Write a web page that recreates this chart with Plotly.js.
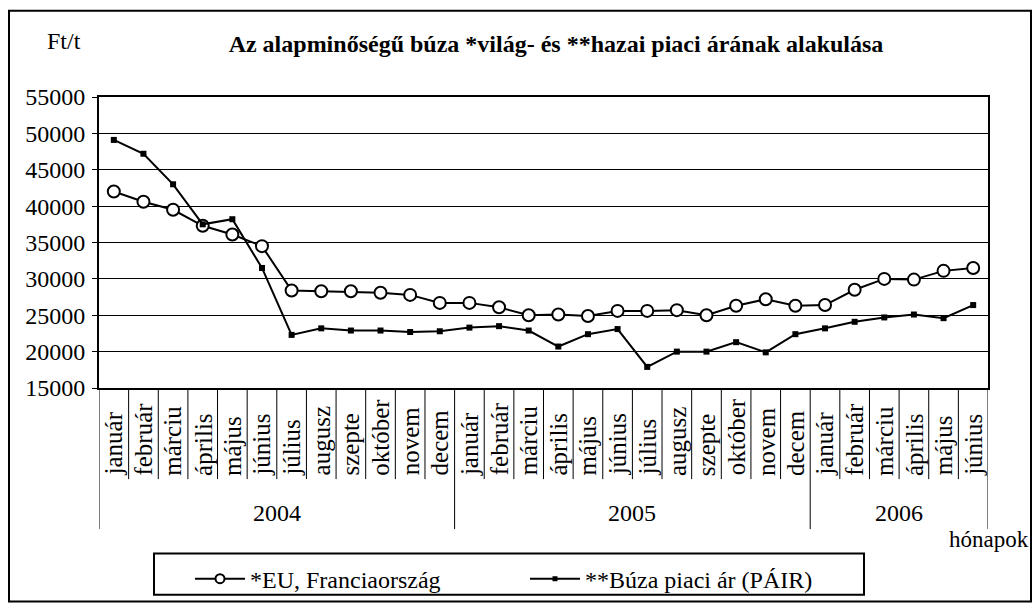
<!DOCTYPE html>
<html>
<head>
<meta charset="utf-8">
<script src="https://cdn.plot.ly/plotly-3.0.1.min.js"></script>
<style>html,body{margin:0;padding:0;background:#fff;}</style>
</head>
<body>
<div id="chart" style="width:1035px;height:613px;"></div>
<script>
const monthNames = ['január','február','márciu','április','május','június','július','augusz','szepte','október','novem','decem'];
const years = ['2004','2005','2006'];
const monthsPerYear = [12, 12, 6];
const euPrices = [42000,40600,39500,37300,36100,34500,28400,28300,28300,28100,27800,26700,
                  26700,26100,25000,25100,24900,25600,25600,25700,25000,26300,27200,26300,
                  26400,28500,30000,29900,31100,31500];
const pairPrices = [49100,47200,43000,37500,38200,31500,22300,23200,22900,22900,22700,22800,
                    23300,23500,22900,20700,22400,23100,17900,20000,20000,21300,19900,22400,
                    23200,24100,24700,25100,24600,26400];
const seriesNames = ['*EU, Franciaország', '**Búza piaci ár (PÁIR)'];
const titleText = 'Az alapminőségű búza *világ- és **hazai piaci árának alakulása';
const yUnit = 'Ft/t';
const xUnit = 'hónapok';

const monthLabels = [];
monthsPerYear.forEach((n) => { for (let i = 0; i < n; i++) monthLabels.push(monthNames[i]); });
const xIdx = monthLabels.map((_, i) => i);
const N = monthLabels.length;

const FONT = 'Liberation Serif';

const L = 99, T = 97, W = 889, H = 297;
const px2x = (px) => (px - L) / W;
const py2y = (py) => (T + H - py) / H;

const traces = [
  {x: xIdx, y: euPrices, name: seriesNames[0], type: 'scatter', mode: 'lines+markers', showlegend: false,
   line: {color: '#000', width: 2},
   marker: {symbol: 'circle', size: 12, color: '#fff', line: {color: '#000', width: 2}}},
  {x: xIdx, y: pairPrices, name: seriesNames[1], type: 'scatter', mode: 'lines+markers', showlegend: false,
   line: {color: '#000', width: 2},
   marker: {symbol: 'square', size: 6, color: '#000', line: {color: '#000', width: 0}}},
  {x: [null], y: [null], name: seriesNames[0], type: 'scatter', mode: 'lines+markers', showlegend: true,
   line: {color: '#000', width: 2},
   marker: {symbol: 'circle', size: 9, color: '#fff', line: {color: '#000', width: 2}}},
  {x: [null], y: [null], name: seriesNames[1], type: 'scatter', mode: 'lines+markers', showlegend: true,
   line: {color: '#000', width: 2},
   marker: {symbol: 'square', size: 5, color: '#000', line: {color: '#000', width: 0}}}
];

const shapes = [];
const annotations = [];
const monthBottom = py2y(487);
const yearBottom = py2y(538);
const yearStarts = [0];
monthsPerYear.forEach((n, i) => yearStarts.push(yearStarts[i] + n));
for (let k = 0; k <= N; k++) {
  const isYear = yearStarts.indexOf(k) >= 0;
  shapes.push({type: 'line', xref: 'x', yref: 'paper', x0: k - 0.5, x1: k - 0.5,
    y0: 0, y1: isYear ? yearBottom : monthBottom, line: {color: '#000', width: 1}});
}
monthLabels.forEach((m, i) => {
  annotations.push({x: i, y: monthBottom + 0.005, xref: 'x', yref: 'paper', text: m, showarrow: false,
    textangle: -90, xanchor: 'center', yanchor: 'bottom', font: {family: FONT, size: 25, color: '#000'}});
});
years.forEach((yr, i) => {
  annotations.push({x: (yearStarts[i] + yearStarts[i + 1] - 1) / 2, y: py2y(522), xref: 'x', yref: 'paper',
    text: yr, showarrow: false, xanchor: 'center', yanchor: 'middle', font: {family: FONT, size: 24, color: '#000'}});
});
annotations.push({x: px2x(1031), y: py2y(549), xref: 'paper', yref: 'paper', text: xUnit, showarrow: false,
  xanchor: 'right', yanchor: 'middle', font: {family: FONT, size: 23, color: '#000'}});
annotations.push({x: px2x(64), y: py2y(40), xref: 'paper', yref: 'paper', text: yUnit, showarrow: false,
  xanchor: 'center', yanchor: 'middle', font: {family: FONT, size: 24, color: '#000'}});
shapes.push({type: 'rect', xref: 'paper', yref: 'paper', x0: px2x(9), x1: px2x(1031), y0: py2y(9), y1: py2y(612),
  line: {color: '#000', width: 2}, fillcolor: 'rgba(0,0,0,0)'});
shapes.push({type: 'rect', xref: 'paper', yref: 'paper', x0: px2x(154), x1: px2x(864), y0: py2y(563), y1: py2y(605),
  line: {color: '#000', width: 2}, fillcolor: 'rgba(0,0,0,0)'});

const layout = {
  width: 1035, height: 613,
  margin: {l: L, r: 1035 - L - W, t: T, b: 613 - T - H, pad: 0},
  paper_bgcolor: '#fff', plot_bgcolor: '#fff',
  font: {family: FONT, color: '#000', size: 24},
  title: {text: titleText, x: px2x(556), xref: 'paper', xanchor: 'center', y: 1 - 44 / 613, yref: 'container', yanchor: 'middle',
    font: {family: FONT, size: 24, weight: 'bold', color: '#000'}},
  xaxis: {range: [-0.5, N - 0.5], showgrid: false, zeroline: false, showticklabels: false, ticks: '',
    showline: true, linecolor: '#000', linewidth: 2, mirror: true, fixedrange: true},
  yaxis: {range: [15000, 55000], dtick: 5000, tick0: 15000, tickformat: 'd', showgrid: true, gridcolor: '#000', gridwidth: 1,
    zeroline: false, showline: true, linecolor: '#000', linewidth: 2, mirror: true,
    ticks: 'outside', ticklen: 5, tickcolor: '#000', ticklabelstandoff: 2,
    tickfont: {family: FONT, size: 24, color: '#000'}, fixedrange: true},
  showlegend: true,
  legend: {orientation: 'h', x: px2x(190), y: py2y(566), xanchor: 'left', yanchor: 'top',
    borderwidth: 0, bgcolor: 'rgba(0,0,0,0)', font: {family: FONT, size: 24, color: '#000'},
    entrywidth: 270, entrywidthmode: 'pixels', itemwidth: 50, traceorder: 'normal'},
  shapes: shapes,
  annotations: annotations
};

Plotly.newPlot('chart', traces, layout, {displayModeBar: false, staticPlot: true});
</script>
</body>
</html>
